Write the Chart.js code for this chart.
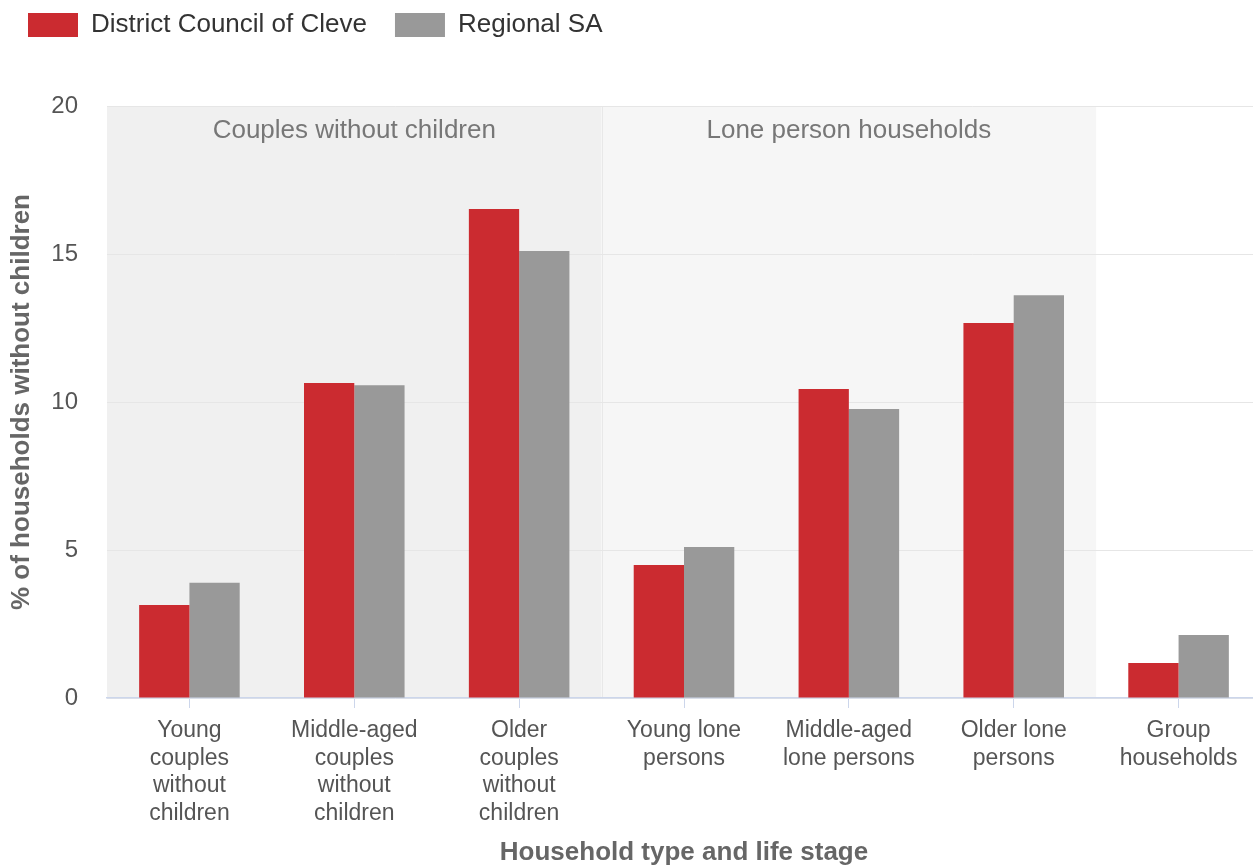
<html>
  <head>
    <script src="https://cdnjs.cloudflare.com/ajax/libs/Chart.js/4.4.1/chart.umd.min.js" type="text/javascript"></script>
    <style>
      body { margin: 0; background: #fff; overflow: hidden; }
      #wrap { width: 1261px; height: 865px; }
    </style>
  </head>
  <body>
    <div id="wrap"><canvas id="households"></canvas></div>

    <script>
      // chart data
      var categories = [
        ['Young', 'couples', 'without', 'children'],
        ['Middle-aged', 'couples', 'without', 'children'],
        ['Older', 'couples', 'without', 'children'],
        ['Young lone', 'persons'],
        ['Middle-aged', 'lone persons'],
        ['Older lone', 'persons'],
        ['Group', 'households']
      ];
      var cleve = [3.14, 10.64, 16.52, 4.49, 10.44, 12.67, 1.18];
      var regionalSA = [3.89, 10.57, 15.1, 5.1, 9.76, 13.61, 2.13];
      var yTicks = [0, 5, 10, 15, 20];
      // groups of categories shaded behind the bars: [first index, last index, label]
      var bands = [
        [0, 2, 'Couples without children'],
        [3, 5, 'Lone person households']
      ];

      var fontFamily = '"Liberation Sans", Arial, sans-serif';
      Chart.defaults.font.family = fontFamily;

      var bandPlugin = {
        id: 'bands',
        beforeInit(chart) {
          // leave room between legend and plot
          var legend = chart.legend;
          var origFit = legend.fit;
          legend.fit = function () {
            origFit.call(this);
            this.height = 122;
          };
        },
        beforeDraw(chart) {
          var ctx = chart.ctx;
          var area = chart.chartArea;
          var x = chart.scales.x;
          var fills = ['#f0f0f0', '#f6f6f6'];
          bands.forEach(function (b, i) {
            var left = b[0] === 0 ? area.left : (x.getPixelForValue(b[0] - 1) + x.getPixelForValue(b[0])) / 2;
            var right = (x.getPixelForValue(b[1]) + x.getPixelForValue(b[1] + 1)) / 2;
            ctx.save();
            ctx.fillStyle = fills[i];
            ctx.fillRect(left, area.top, right - left, area.bottom - area.top);
            if (i > 0) {
              ctx.fillStyle = '#e8e8e8';
              ctx.fillRect(Math.round(left), area.top, 1, area.bottom - area.top);
            }
            ctx.fillStyle = '#777777';
            ctx.font = '26px ' + fontFamily;
            ctx.textAlign = 'center';
            ctx.textBaseline = 'middle';
            ctx.fillText(b[2], (left + right) / 2, area.top + 25);
            ctx.restore();
          });
        }
      };

      var ctxHouseholds = document.getElementById('households').getContext('2d');

      var householdsChart = new Chart(ctxHouseholds, {
        type: 'bar',
        data: {
          labels: categories,
          datasets: [
            {
              label: 'District Council of Cleve',
              data: cleve,
              backgroundColor: '#cb2b30',
              barPercentage: 1,
              categoryPercentage: 0.61
            },
            {
              label: 'Regional SA',
              data: regionalSA,
              backgroundColor: '#999999',
              barPercentage: 1,
              categoryPercentage: 0.61
            }
          ]
        },
        options: {
          responsive: true,
          maintainAspectRatio: false,
          animation: false,
          layout: { padding: { top: -16, left: 0, right: 0, bottom: 0 } },
          plugins: {
            tooltip: { enabled: false },
            legend: {
              position: 'top',
              align: 'start',
              labels: {
                boxWidth: 50,
                boxHeight: 24,
                padding: 28,
                color: '#333333',
                font: { size: 26 }
              }
            }
          },
          scales: {
            x: {
              afterFit(scale) { scale.height = 167; },
              grid: {
                display: true,
                drawOnChartArea: false,
                drawTicks: true,
                tickLength: 10,
                offset: false,
                color: '#ccd6eb'
              },
              border: { display: true, color: '#ccd6eb', width: 1.5 },
              ticks: {
                color: '#555555',
                padding: 9,
                maxRotation: 0,
                autoSkip: false,
                font: { size: 23, lineHeight: 1.2 }
              },
              title: {
                display: true,
                text: 'Household type and life stage',
                color: '#666666',
                font: { size: 26, weight: 'bold' },
                padding: { top: 6, bottom: -3 }
              }
            },
            y: {
              min: 0,
              max: 20,
              afterFit(scale) { scale.width = 107; },
              afterBuildTicks(scale) {
                scale.ticks = yTicks.map(function (v) { return { value: v }; });
              },
              grid: { color: '#e6e6e6', drawTicks: false },
              border: { display: false },
              ticks: {
                color: '#555555',
                padding: 29,
                font: { size: 24 }
              },
              title: {
                display: true,
                text: '% of households without children',
                color: '#666666',
                font: { size: 26, weight: 'bold' },
                padding: { top: 6, bottom: 13 }
              }
            }
          }
        },
        plugins: [bandPlugin]
      });
    </script>
  </body>
</html>
